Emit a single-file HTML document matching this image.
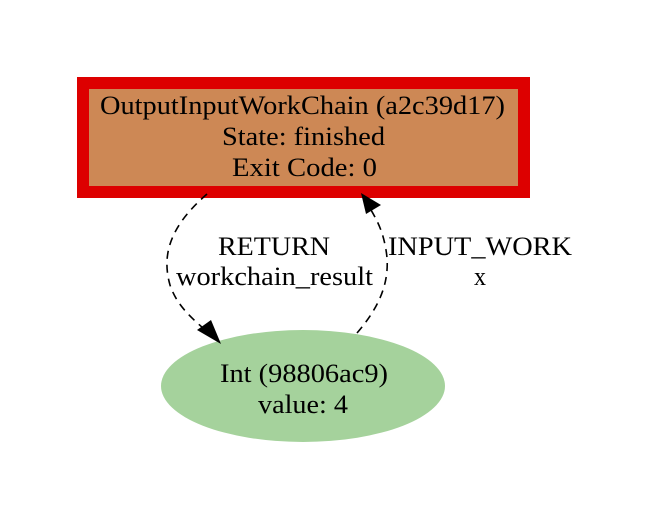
<!DOCTYPE html>
<html><head><style>
html,body{margin:0;padding:0;background:#fff;}
svg text{font-family:"Liberation Serif",serif;fill:#000;}
</style></head><body>
<svg width="656" height="527" viewBox="0 0 656 527" xmlns="http://www.w3.org/2000/svg" font-size="26">
<rect x="0" y="0" width="656" height="527" fill="#fff"/>
<rect x="83" y="83" width="441" height="109" fill="#cd8855" stroke="#dd0000" stroke-width="12"/>
<text x="100" y="114" font-size="26" textLength="405" lengthAdjust="spacingAndGlyphs">OutputInputWorkChain (a2c39d17)</text>
<text x="222" y="145" font-size="26" textLength="163" lengthAdjust="spacingAndGlyphs">State: finished</text>
<text x="232" y="176" font-size="26" textLength="145" lengthAdjust="spacingAndGlyphs">Exit Code: 0</text>
<ellipse cx="303" cy="386" rx="142" ry="56" fill="#a5d29c"/>
<text x="220" y="382" font-size="26" textLength="168" lengthAdjust="spacingAndGlyphs">Int (98806ac9)</text>
<text x="258" y="413" font-size="26" textLength="90" lengthAdjust="spacingAndGlyphs">value: 4</text>
<path d="M207,194 C175,222 160,250 170,285 C176,303 188,315 203,328" fill="none" stroke="#000" stroke-width="1.6" stroke-dasharray="8,6"/>
<polygon points="221,344 197,330 211,320" fill="#000"/>
<path d="M357,333 C375,312 392,285 386,250 C383,232 378,222 371,210" fill="none" stroke="#000" stroke-width="1.6" stroke-dasharray="8,6"/>
<polygon points="361,193 366,214 381,205" fill="#000"/>
<text x="218" y="255" font-size="26" textLength="112" lengthAdjust="spacingAndGlyphs">RETURN</text>
<text x="176" y="285" font-size="26" textLength="197" lengthAdjust="spacingAndGlyphs">workchain_result</text>
<text x="388" y="255" font-size="26" textLength="184" lengthAdjust="spacingAndGlyphs">INPUT_WORK</text>
<text x="474" y="285" font-size="26" textLength="12" lengthAdjust="spacingAndGlyphs">x</text>
</svg>
</body></html>
